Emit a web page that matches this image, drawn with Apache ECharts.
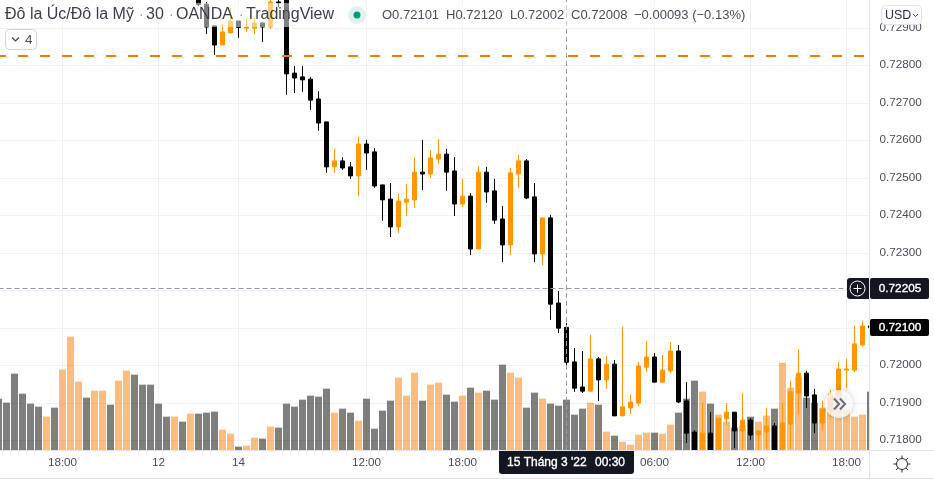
<!DOCTYPE html>
<html>
<head>
<meta charset="utf-8">
<title>AUD/USD</title>
<style>
	html, body { margin: 0; padding: 0; background: #fff; }
	#chart { width: 934px; height: 482px; }
</style>
<script src="https://cdn.jsdelivr.net/npm/echarts@6/dist/echarts.min.js"></script>
</head>
<body>
<div id="chart"></div>
<script>
//30 minute bars, "day hh:mm"
var categories = [
	'11 14:00','11 14:30','11 15:00','11 15:30','11 16:00','11 16:30','11 17:00','11 17:30','11 18:00','11 18:30',
	'11 19:00','11 19:30','11 20:00','11 20:30','11 21:00','11 21:30','11 22:00','11 22:30','11 23:00','11 23:30',
	'12 00:00','12 00:30','12 01:00','12 01:30','12 02:00','12 02:30','12 03:00','12 03:30','12 04:00','12 04:30',
	'14 04:00','14 04:30','14 05:00','14 05:30','14 06:00','14 06:30','14 07:00','14 07:30','14 08:00','14 08:30',
	'14 09:00','14 09:30','14 10:00','14 10:30','14 11:00','14 11:30','14 12:00','14 12:30','14 13:00','14 13:30',
	'14 14:00','14 14:30','14 15:00','14 15:30','14 16:00','14 16:30','14 17:00','14 17:30','14 18:00','14 18:30',
	'14 19:00','14 19:30','14 20:00','14 20:30','14 21:00','14 21:30','14 22:00','14 22:30','14 23:00','14 23:30',
	'15 00:00','15 00:30','15 01:00','15 01:30','15 02:00','15 02:30','15 03:00','15 03:30','15 04:00','15 04:30',
	'15 05:00','15 05:30','15 06:00','15 06:30','15 07:00','15 07:30','15 08:00','15 08:30','15 09:00','15 09:30',
	'15 10:00','15 10:30','15 11:00','15 11:30','15 12:00','15 12:30','15 13:00','15 13:30','15 14:00','15 14:30',
	'15 15:00','15 15:30','15 16:00','15 16:30','15 17:00','15 17:30','15 18:00','15 18:30','15 19:00','15 19:30'
];
var tickCategories = ['11 18:00','12 00:00','14 04:00','14 12:00','14 18:00','15 06:00','15 12:00','15 18:00'];
var tickLabels = ['18:00','12','14','12:00','18:00','06:00','12:00','18:00'];

//the candles above the top of the picture are left out, first one drawn is 12 02:30
var firstCandle = '12 02:30';
var opens = [
	.72979,.72963,.72905,.72854,.72886,.72918,.72899,.72899,.72913,.72902,.72969,.72995,.72779,.72769,.72763,.7271,.72649,
	.72529,.72545,.72529,.72505,.7259,.72569,.72481,.72443,.72369,.72435,.72441,.72515,.7251,.7255,.72563,.72518,.7243,
	.72451,.7231,.72515,.72465,.7239,.72321,.7251,.72545,.72449,.72297,.72393,.72166,.72101,.72009,.71942,.71931,.72017,
	.71961,.72003,.71865,.71886,.71899,.71995,.72022,.71955,.71985,.72038,.71905,.71822,.71774,.71819,.71774,.71857,.71875,
	.71825,.71854,.71814,.71822,.71838,.71774,.71843,.71926,.71979,.71921,.71846,.71881,.71923,.71987,.71987,.72054,.72105
];
var closes = [
	.72962,.72902,.72854,.72889,.72918,.72901,.72902,.72913,.72902,.72969,.72966,.72777,.72766,.72761,.72707,.72646,.72529,
	.72545,.72526,.72505,.7259,.72566,.72478,.72441,.72369,.72438,.72443,.72515,.7251,.72553,.72563,.72515,.7243,.72451,
	.7231,.72515,.72462,.72387,.72321,.72513,.72545,.72446,.72297,.72393,.72163,.72099,.72008,.71939,.71931,.72017,.71961,
	.72003,.71865,.71889,.71902,.71998,.72022,.71955,.71987,.72038,.71902,.71819,.71774,.71819,.71774,.71859,.71875,.71825,
	.71854,.71814,.71825,.71838,.71774,.71846,.71929,.71979,.71918,.71846,.71883,.71923,.7199,.7199,.72057,.72105,.721
];
var lows = [
	.72958,.72883,.72827,.72854,.72886,.72873,.72889,.72883,.72862,.72897,.72955,.72721,.72726,.72729,.72681,.72625,.72513,
	.72513,.72521,.72497,.72451,.72521,.72473,.72385,.72342,.72353,.72398,.72419,.72467,.72499,.72537,.72465,.72398,.72422,
	.72294,.7231,.72433,.72377,.72275,.72294,.72473,.72443,.72275,.72267,.72121,.72086,.71995,.71929,.71926,.71931,.71905,
	.71937,.71865,.71865,.7187,.71891,.71982,.71955,.71953,.71979,.71899,.71793,.71774,.71774,.71774,.71774,.71841,.71779,
	.71774,.71801,.71774,.71777,.71774,.71774,.71777,.7187,.71886,.71819,.71827,.71862,.71918,.71939,.71982,.72049,.72097
];
var highs = [
	.72985,.72969,.72905,.7291,.72953,.72918,.72926,.72929,.72913,.72982,.72979,.73001,.72798,.72798,.72769,.72731,.72649,
	.72577,.72555,.72542,.72609,.72601,.72579,.72481,.72486,.72457,.72483,.72555,.72601,.72574,.72603,.72577,.72555,.72497,
	.72459,.72531,.72529,.72497,.72425,.72526,.72561,.7255,.72486,.72393,.72401,.72198,.72113,.72046,.72038,.72081,.72022,
	.72025,.72014,.72102,.71921,.72009,.72065,.72033,.72027,.72062,.72054,.71955,.71827,.71899,.71875,.71859,.71899,.71875,
	.71926,.71859,.71827,.71886,.71846,.71899,.71958,.72043,.71985,.71937,.71905,.71934,.72009,.72017,.72105,.72118,.72113
];

//tick volume, and 1 for a rising bar
var volumes = [
	154,142,229,169,139,130,100,127,241,340,205,157,178,178,136,208,238,226,196,196,
	139,100,100,85,109,109,112,115,61,49,10,13,37,34,70,67,139,130,151,163,
	160,184,112,124,112,88,154,64,118,148,217,163,232,148,196,202,166,145,163,187,
	172,178,151,256,232,217,127,172,154,139,133,151,106,124,142,136,55,43,25,16,
	46,52,52,49,76,112,154,208,175,139,106,85,67,73,100,85,103,124,262,187,
	220,157,142,127,157,175,121,100,106,175
];
var volumeUp = [
	0,0,0,0,0,0,1,0,1,1,1,0,1,1,0,1,1,0,0,0,
	0,0,1,0,1,0,0,0,1,1,0,1,1,0,1,0,0,0,0,0,
	0,0,1,0,0,1,0,0,0,0,1,1,1,0,1,1,0,0,1,0,
	1,0,0,0,1,1,0,0,1,0,0,0,0,0,1,0,1,0,1,1,
	1,1,0,1,1,0,0,0,1,0,1,1,0,1,0,1,1,0,1,1,
	1,0,0,1,1,1,1,1,1,0
];
var avgPrice = 0.728247;
var crossPrice = 0.722047;
var crossCategory = '15 00:30';

var fontName = '"Liberation Sans", Arial, sans-serif';
var textColor = '#4a4e59';
var gridColor = '#eff1f5';
var lineColor = '#e0e3eb';
var darkTag = '#131722';

function label(x, y, str, size, color, align, heavy) {
	return {
		type: 'text', z: 120, x: x, y: y, silent: true,
		style: {
			text: str, fill: color || textColor, align: align || 'left', verticalAlign: 'middle',
			font: (size || 12) + 'px ' + fontName,
			stroke: heavy ? color : null, lineWidth: heavy ? 0.35 : 0
		}
	};
}
function box(x, y, w, h, fill, r, stroke, z) {
	return {
		type: 'rect', z: z || 110, silent: true,
		shape: { x: x, y: y, width: w, height: h, r: r || 0 },
		style: { fill: fill, stroke: stroke || null, lineWidth: stroke ? 1 : 0 }
	};
}
function path(points, color, width) {
	return {
		type: 'polyline', z: 125, silent: true,
		shape: { points: points },
		style: { stroke: color, lineWidth: width || 1, fill: null }
	};
}
function circle(x, y, r, fill, stroke, shadow) {
	return {
		type: 'circle', z: 118, silent: true,
		shape: { cx: x, cy: y, r: r },
		style: {
			fill: fill, stroke: stroke || null, lineWidth: stroke ? 1 : 0,
			shadowBlur: shadow ? 6 : 0, shadowColor: 'rgba(0,0,0,.25)'
		}
	};
}

var graphics = [
	//strip behind the legend
	box(0, 3, 720, 24, 'rgba(255,255,255,.5)', 0, null, 105),
	//panel borders, masks the end of the plot
	box(870, 0, 5, 450, '#fff', 0, null, 106),
	box(869, 0, 1, 478, lineColor, 0, null, 107),
	box(0, 450, 934, 1, lineColor, 0, null, 107),
	box(0, 478, 934, 1, lineColor, 0, null, 107),
	//legend
	label(5, 15, 'Đô la Úc/Đô la Mỹ', 16, '#3b3f4a'),
	label(139, 15, '·', 14, '#9598a1'),
	label(146, 15, '30', 16, '#3b3f4a'),
	label(169, 15, '·', 14, '#9598a1'),
	label(176, 15, 'OANDA', 16, '#3b3f4a'),
	label(239, 15, '·', 14, '#9598a1'),
	label(246, 15, 'TradingView', 16, '#3b3f4a'),
	circle(357, 15, 9, 'rgba(8,153,129,.13)'),
	circle(357, 15, 3.5, '#089981'),
	label(382, 15, 'O0.72101', 13),
	label(446, 15, 'H0.72120', 13),
	label(510, 15, 'L0.72002', 13),
	label(571, 15, 'C0.72008', 13),
	label(634, 15, '−0.00093 (−0.13%)', 13),
	//collapsed indicators
	box(5.5, 29.5, 31, 20, '#fff', 4, '#d1d4dc'),
	path([[12, 37.5], [15.5, 41], [19, 37.5]], '#3b3f4a', 1.2),
	label(25, 40, '4', 13.5),
	//currency button
	box(881.5, 5.5, 40, 19, '#fff', 4, lineColor),
	label(885, 15.5, 'USD', 12.5, '#2a2e4a'),
	path([[913, 14], [915.5, 16.5], [918, 14]], '#3b3f4a', 1),
	//crosshair price
	box(847, 278, 22, 21, darkTag, [3, 0, 0, 3]),
	circle(857.5, 288.5, 7.5, darkTag, '#fff'),
	path([[853.5, 288.5], [861.5, 288.5]], '#fff', 1),
	path([[857.5, 284.5], [857.5, 292.5]], '#fff', 1),
	box(870, 278, 59, 21, darkTag, 2),
	label(900, 289, '0.72205', 11.8, '#fff', 'center', true),
	//last price
	box(870, 319, 59, 17, '#000', 2),
	label(900, 328, '0.72100', 11.8, '#fff', 'center', true),
	//crosshair time
	box(499, 451, 135, 23, darkTag, [0, 0, 3, 3]),
	label(507, 463, "15 Tháng 3 '22", 12, '#fff', 'left', true),
	label(595, 463, '00:30', 12, '#fff', 'left', true),
	//scroll to the latest bar
	circle(839, 404, 14, 'rgba(255,255,255,.82)', null, true),
	path([[834, 398.5], [839, 404], [834, 409.5]], '#6a6d78', 2),
	path([[840, 398.5], [845, 404], [840, 409.5]], '#6a6d78', 2),
	//settings
	circle(902, 464, 5.5, '#fff', '#2a2e39')
];
for(var a = 0; a < 8; a++) {
	var c = Math.cos(a * Math.PI / 4), s = Math.sin(a * Math.PI / 4);
	graphics.push(path([[902 + 5.5 * c, 464 + 5.5 * s], [902 + 8.5 * c, 464 + 8.5 * s]], '#2a2e39', 1));
}

var skipped = categories.indexOf(firstCandle);
var candleData = categories.map(function(name, i) {
	var j = i - skipped;
	if(j < 0) {
		return ['-', '-', '-', '-'];
	}
	return [opens[j], closes[j], lows[j], highs[j]];
});
function isTick(index) {
	return tickCategories.indexOf(categories[index]) > -1;
}

var option = {
	animation: false,
	backgroundColor: '#fff',
	textStyle: { fontFamily: fontName },
	grid: [
		{ left: -1.5, width: 872, top: -9.75, height: 487.5, outerBoundsMode: 'none' },
		{ left: -1.5, width: 872, top: 0, height: 450, outerBoundsMode: 'none' }
	],
	xAxis: [{
		type: 'category',
		gridIndex: 0,
		data: categories,
		boundaryGap: false,
		axisLine: { show: false },
		axisTick: { show: false },
		axisLabel: { show: false },
		splitLine: { show: false }
	}, {
		type: 'category',
		gridIndex: 1,
		data: categories,
		boundaryGap: false,
		axisLine: { show: false },
		axisTick: { show: false },
		axisLabel: {
			interval: function(index) {
				return isTick(index);
			},
			formatter: function(value) {
				return tickLabels[tickCategories.indexOf(value)];
			},
			color: textColor,
			fontSize: 11.7,
			margin: 7
		},
		splitLine: {
			show: true,
			interval: function(index) {
				return isTick(index);
			},
			lineStyle: { color: gridColor, width: 1 }
		}
	}],
	yAxis: [{
		type: 'value',
		gridIndex: 0,
		position: 'right',
		min: 0.717,
		max: 0.73,
		interval: 0.001,
		scale: true,
		axisLine: { show: false },
		axisTick: { show: false },
		axisLabel: {
			color: textColor,
			fontSize: 11.7,
			margin: 9,
			showMinLabel: false,
			showMaxLabel: false,
			formatter: function(value) {
				return value.toFixed(5);
			}
		},
		splitLine: { show: true, lineStyle: { color: gridColor, width: 1 } }
	}, {
		type: 'value',
		gridIndex: 1,
		position: 'left',
		min: 0,
		max: 1350,
		axisLine: { show: false },
		axisTick: { show: false },
		axisLabel: { show: false },
		splitLine: { show: false }
	}],
	series: [{
		name: 'Volume',
		type: 'bar',
		xAxisIndex: 1,
		yAxisIndex: 1,
		barWidth: 7,
		data: volumes,
		itemStyle: {
			color: function(params) {
				return volumeUp[params.dataIndex] ? 'rgba(245,124,0,.5)' : 'rgba(0,0,0,.5)';
			}
		},
		markLine: {
			silent: true,
			symbol: 'none',
			label: { show: false },
			lineStyle: { color: '#9598a1', width: 1, type: [5, 3] },
			data: [{ xAxis: crossCategory }]
		}
	}, {
		name: 'Đô la Úc/Đô la Mỹ',
		type: 'candlestick',
		xAxisIndex: 0,
		yAxisIndex: 0,
		barWidth: 5,
		data: candleData,
		itemStyle: {
			color: '#ff9800',
			color0: '#000',
			borderColor: '#ff9800',
			borderColor0: '#000',
			borderWidth: 1
		},
		markLine: {
			silent: true,
			symbol: 'none',
			precision: 6,
			label: { show: false },
			data: [{
				yAxis: avgPrice,
				lineStyle: { color: '#f57c00', width: 2, type: [10, 12], dashOffset: 2.5 }
			}, {
				yAxis: crossPrice,
				lineStyle: { color: '#9598a1', width: 1, type: [5, 3] }
			}]
		}
	}],
	graphic: { elements: graphics }
};
var chart = echarts.init(document.getElementById('chart'));
chart.setOption(option);
</script>
</body>
</html>
